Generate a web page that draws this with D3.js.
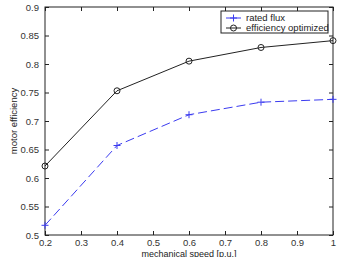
<!DOCTYPE html>
<html><head><meta charset="utf-8">
<script src="https://cdn.jsdelivr.net/npm/d3@7"></script>
<style>body{margin:0;background:#fff}svg{display:block}text{font-family:"Liberation Sans",Arial,sans-serif}</style>
</head><body>
<script>
const speeds = [0.2, 0.4, 0.6, 0.8, 1.0];
const ratedFlux = [0.517, 0.657, 0.711, 0.733, 0.738];
const effOptimized = [0.621, 0.753, 0.805, 0.829, 0.841];
const xTicks = [0.2, 0.3, 0.4, 0.5, 0.6, 0.7, 0.8, 0.9, 1];
const yTicks = [0.5, 0.55, 0.6, 0.65, 0.7, 0.75, 0.8, 0.85, 0.9];
const seriesNames = ["rated flux", "efficiency optimized"];

const W = 364, H = 257;
const svg = d3.select("body").append("svg").attr("width", W).attr("height", H);
const x = d3.scaleLinear().domain([0.2, 1]).range([45, 333]);
const y = d3.scaleLinear().domain([0.5, 0.9]).range([235, 7]);
const fmt = d => d3.format("")(+d.toFixed(2));

const tc = "#222";
svg.append("rect").attr("x", 45).attr("y", 7).attr("width", 288).attr("height", 228)
  .attr("fill", "none").attr("stroke", tc).attr("stroke-width", 1);

const ax = (g) => { g.select(".domain").remove(); g.selectAll("line").attr("stroke", tc); g.selectAll("text").attr("fill", "#333").attr("font-size", 9.5); };
svg.append("g").attr("transform", "translate(0,235)")
  .call(d3.axisBottom(x).tickValues(xTicks).tickSizeInner(-4).tickSizeOuter(0).tickPadding(4).tickFormat(fmt)).call(ax);
svg.append("g").attr("transform", "translate(0,7)")
  .call(d3.axisTop(x).tickValues(xTicks).tickSizeInner(-4).tickSizeOuter(0).tickFormat("")).call(ax);
svg.append("g").attr("transform", "translate(45,0)")
  .call(d3.axisLeft(y).tickValues(yTicks).tickSizeInner(-4).tickSizeOuter(0).tickPadding(6).tickFormat(fmt)).call(ax);
svg.append("g").attr("transform", "translate(333,0)")
  .call(d3.axisRight(y).tickValues(yTicks).tickSizeInner(-4).tickSizeOuter(0).tickFormat("")).call(ax);

const line = d3.line().x((d, i) => x(speeds[i])).y(d => y(d));
const blue = "#3b3bf0";
svg.append("path").attr("d", line(ratedFlux)).attr("fill", "none").attr("stroke", blue)
  .attr("stroke-width", 1).attr("stroke-dasharray", "9,4");
svg.append("path").attr("d", line(effOptimized)).attr("fill", "none").attr("stroke", tc).attr("stroke-width", 1);

const plus = (g, cx, cy, c) => {
  g.append("line").attr("x1", cx - 3.5).attr("x2", cx + 3.5).attr("y1", cy).attr("y2", cy).attr("stroke", c);
  g.append("line").attr("x1", cx).attr("x2", cx).attr("y1", cy - 3.5).attr("y2", cy + 3.5).attr("stroke", c);
};
const mk = svg.append("g");
ratedFlux.forEach((v, i) => plus(mk, x(speeds[i]), y(v), blue));
effOptimized.forEach((v, i) => mk.append("circle").attr("cx", x(speeds[i])).attr("cy", y(v)).attr("r", 3)
  .attr("fill", "none").attr("stroke", tc));

const lg = svg.append("g");
lg.append("rect").attr("x", 221).attr("y", 11).attr("width", 107).attr("height", 22)
  .attr("fill", "#fff").attr("stroke", tc);
lg.append("line").attr("x1", 226).attr("x2", 241).attr("y1", 18).attr("y2", 18).attr("stroke", blue);
plus(lg, 233.5, 18, blue);
lg.append("line").attr("x1", 226).attr("x2", 241).attr("y1", 28).attr("y2", 28).attr("stroke", tc);
lg.append("circle").attr("cx", 233.5).attr("cy", 28).attr("r", 3).attr("fill", "none").attr("stroke", tc);
lg.append("text").attr("x", 246).attr("y", 21).attr("font-size", 9.5).attr("fill", "#222").text(seriesNames[0]);
lg.append("text").attr("x", 246).attr("y", 31).attr("font-size", 9.5).attr("fill", "#222").text(seriesNames[1]);

svg.append("text").attr("x", 189).attr("y", 256.5).attr("text-anchor", "middle").attr("font-size", 9)
  .attr("fill", "#222").text("mechanical speed [p.u.]");
svg.append("text").attr("transform", "translate(17,121) rotate(-90)").attr("text-anchor", "middle")
  .attr("font-size", 9.5).attr("fill", "#222").text("motor efficiency");
</script>
</body></html>
